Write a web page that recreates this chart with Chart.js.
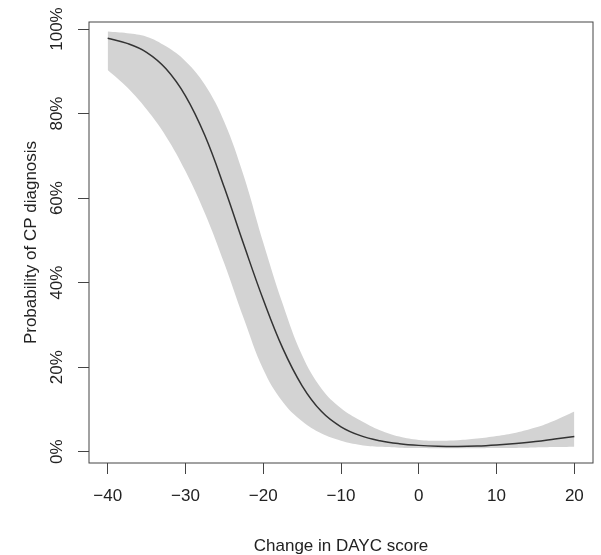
<!DOCTYPE html>
<html>
<head>
<meta charset="utf-8">
<script src="https://cdn.jsdelivr.net/npm/chart.js@4/dist/chart.umd.min.js"></script>
<style>
	html, body { margin: 0; padding: 0; background: #fff; }
	#wrap { width: 601px; height: 555px; position: relative; }
</style>
</head>
<body>
<div id="wrap"><canvas id="myChart"></canvas></div>
<script>
	// Change in DAYC score
	const scores = [-40, -37.5, -35, -32.5, -30, -27.5, -25, -22.5, -20, -17.5, -15, -12.5, -10, -7.5, -5, -2.5, 0, 2.5, 5, 7.5, 10, 12.5, 15, 17.5, 20];
	// fitted probability (%)
	const fitted = [97.8, 96.6, 94.5, 90.6, 84.2, 74.8, 62.5, 49, 36, 24.5, 15.6, 9.5, 5.9, 3.8, 2.6, 1.9, 1.5, 1.3, 1.25, 1.35, 1.6, 1.95, 2.4, 3.0, 3.6];
	// confidence band (%)
	const upper = [99.4, 99.0, 98.2, 95.9, 92.4, 86.8, 78, 65.2, 49.5, 35, 22.8, 14.9, 10.3, 7.4, 5.1, 3.6, 2.8, 2.6, 2.7, 3.1, 3.7, 4.5, 5.7, 7.4, 9.5];
	const lower = [90.3, 86.2, 81.0, 74.6, 66.4, 56.4, 44.5, 31.5, 19.5, 11.8, 7.2, 4.3, 2.6, 1.6, 1.15, 0.95, 0.85, 0.8, 0.8, 0.8, 0.85, 0.9, 1.0, 1.1, 1.2];

	const xTicks = [-40, -30, -20, -10, 0, 10, 20];
	const yTicks = [0, 20, 40, 60, 80, 100];

	const FONT = '"Liberation Sans", Arial, Helvetica, sans-serif';
	const pts = (arr) => scores.map((x, i) => ({ x: x, y: arr[i] }));

	// box round the plot + rotated y tick labels (R style)
	const frame = {
		id: 'frame',
		afterDraw(chart) {
			const { ctx, chartArea: a } = chart;
			const y = chart.scales.y;
			ctx.save();
			ctx.strokeStyle = '#444';
			ctx.lineWidth = 1;
			ctx.strokeRect(a.left, a.top, a.right - a.left, a.bottom - a.top);
			ctx.font = '17px ' + FONT;
			ctx.fillStyle = '#222';
			ctx.textAlign = 'center';
			ctx.textBaseline = 'middle';
			yTicks.forEach((v) => {
				ctx.save();
				ctx.translate(a.left - 31.5, y.getPixelForValue(v));
				ctx.rotate(-Math.PI / 2);
				ctx.fillText(v + '%', 0, 0);
				ctx.restore();
			});
			ctx.restore();
		}
	};

	const ctx = document.getElementById('myChart');
	new Chart(ctx, {
		type: 'line',
		data: {
			datasets: [{
				data: pts(fitted),
				borderColor: '#333',
				borderWidth: 1.5,
				pointRadius: 0,
				fill: false,
				tension: 0.4
			}, {
				data: pts(upper),
				borderWidth: 0,
				borderColor: 'transparent',
				backgroundColor: '#d3d3d3',
				pointRadius: 0,
				fill: '+1',
				tension: 0.4
			}, {
				data: pts(lower),
				borderWidth: 0,
				borderColor: 'transparent',
				pointRadius: 0,
				fill: false,
				tension: 0.4
			}]
		},
		options: {
			responsive: true,
			maintainAspectRatio: false,
			animation: false,
			layout: { padding: { left: 0, top: 22, right: 8, bottom: 0 } },
			plugins: {
				legend: { display: false },
				tooltip: { enabled: false }
			},
			scales: {
				x: {
					type: 'linear',
					min: -42.4,
					max: 22.4,
					afterBuildTicks: (s) => { s.ticks = xTicks.map((v) => ({ value: v })); },
					afterFit: (s) => { s.height = 92; },
					border: { display: false },
					grid: { drawOnChartArea: false, drawTicks: true, tickLength: 11, color: '#444' },
					ticks: {
						padding: 12,
						color: '#222',
						font: { family: FONT, size: 17 },
						maxRotation: 0,
						callback: (v) => (v < 0 ? '\u2212' + Math.abs(v) : '' + v)
					},
					title: {
						display: true,
						text: 'Change in DAYC score',
						color: '#222',
						font: { family: FONT, size: 17, lineHeight: 1.06 },
						padding: { top: 0, bottom: 0 }
					}
				},
				y: {
					min: -2.67,
					max: 101.66,
					afterBuildTicks: (s) => { s.ticks = yTicks.map((v) => ({ value: v })); },
					afterFit: (s) => { s.width = 89; },
					border: { display: false },
					grid: { drawOnChartArea: false, drawTicks: true, tickLength: 11, color: '#444' },
					ticks: { display: false },
					title: {
						display: true,
						text: 'Probability of CP diagnosis',
						color: '#222',
						font: { family: FONT, size: 17, lineHeight: 1.06 },
						padding: { top: 22, bottom: 0 }
					}
				}
			}
		},
		plugins: [frame]
	});
</script>
</body>
</html>
